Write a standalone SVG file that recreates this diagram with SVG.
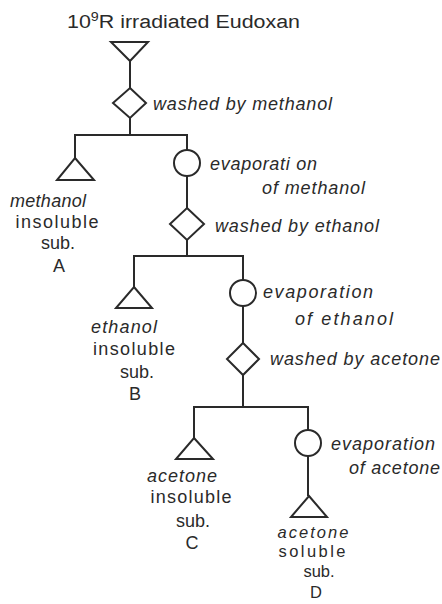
<svg xmlns="http://www.w3.org/2000/svg" width="442" height="604" viewBox="0 0 442 604">
<style>
  .s { fill: none; stroke: #2a2a2a; stroke-width: 2; stroke-linejoin: miter; }
  .c { stroke: #2a2a2a; stroke-width: 2; fill: none; }
  text { font-family: "Liberation Sans", Arial, sans-serif; font-size: 18px; fill: #2a2a2a; }
  .i { font-style: italic; }
  .d { font-size: 16.5px; }
</style>
<rect width="442" height="604" fill="#ffffff"/>

<g id="connectors">
  <path class="c" d="M130 61 V88 M130 118 V135 M74 135 H188 M75 135 V158 M187 135 V150 M187 176 V208 M187 240 V256 M133 256 H244 M134 256 V287 M243 256 V280 M243 306 V343 M243 375 V407 M193 407 H309 M194 407 V438 M308 407 V430 M308 456 V496"/>
</g>

<g id="start">
  <text x="67" y="28" textLength="233" lengthAdjust="spacingAndGlyphs">10<tspan font-size="12" dy="-7">9</tspan><tspan dy="7">R  irradiated Eudoxan</tspan></text>
  <path class="s" d="M111 42 H148 L130 61 Z"/>
</g>

<g id="wash-methanol">
  <path class="s" d="M130 88 L146 103 L130 118 L113 103 Z"/>
  <text class="i" x="153" y="110" textLength="179" lengthAdjust="spacing">washed by methanol</text>
</g>

<g id="sub-A">
  <path class="s" d="M75 158 L94 180 H57 Z"/>
  <text class="i" x="48" y="207" text-anchor="middle" textLength="76" lengthAdjust="spacing">methanol</text>
  <text x="57" y="228" text-anchor="middle" textLength="83" lengthAdjust="spacing">insoluble</text>
  <text x="58" y="249" text-anchor="middle">sub.</text>
  <text x="59" y="272" text-anchor="middle">A</text>
</g>

<g id="evap-methanol">
  <circle class="s" cx="187" cy="163" r="13"/>
  <text class="i" x="210" y="170" textLength="107" lengthAdjust="spacing">evaporati on</text>
  <text class="i" x="262" y="194" textLength="103" lengthAdjust="spacing">of methanol</text>
</g>

<g id="wash-ethanol">
  <path class="s" d="M187 208 L204 224 L187 240 L170 224 Z"/>
  <text class="i" x="215" y="232" textLength="164" lengthAdjust="spacing">washed by ethanol</text>
</g>

<g id="sub-B">
  <path class="s" d="M134 287 L152 308 H116 Z"/>
  <text class="i" x="124" y="333" text-anchor="middle" textLength="66" lengthAdjust="spacing">ethanol</text>
  <text x="134" y="355" text-anchor="middle" textLength="82" lengthAdjust="spacing">insoluble</text>
  <text x="137" y="378" text-anchor="middle">sub.</text>
  <text x="135" y="400" text-anchor="middle">B</text>
</g>

<g id="evap-ethanol">
  <circle class="s" cx="243" cy="293" r="13"/>
  <text class="i" x="263" y="298" textLength="110" lengthAdjust="spacing">evaporation</text>
  <text class="i" x="295" y="325" textLength="98" lengthAdjust="spacing">of ethanol</text>
</g>

<g id="wash-acetone">
  <path class="s" d="M243 343 L259 359 L243 375 L227 359 Z"/>
  <text class="i" x="270" y="365" textLength="170" lengthAdjust="spacing">washed by acetone</text>
</g>

<g id="sub-C">
  <path class="s" d="M194 438 L213 459 H176 Z"/>
  <text class="i" x="182" y="482" text-anchor="middle" textLength="70" lengthAdjust="spacing">acetone</text>
  <text x="191" y="503" text-anchor="middle" textLength="81" lengthAdjust="spacing">insoluble</text>
  <text x="193" y="527" text-anchor="middle">sub.</text>
  <text x="192" y="549" text-anchor="middle">C</text>
</g>

<g id="evap-acetone">
  <circle class="s" cx="308" cy="443" r="13"/>
  <text class="i" x="331" y="450" textLength="104" lengthAdjust="spacing">evaporation</text>
  <text class="i" x="349" y="474" textLength="91" lengthAdjust="spacing">of acetone</text>
</g>

<g id="sub-D">
  <path class="s" d="M309 496 L327 517 H291 Z"/>
  <text class="i d" x="313" y="538" text-anchor="middle" textLength="71" lengthAdjust="spacing">acetone</text>
  <text class="d" x="312" y="557" text-anchor="middle" textLength="67" lengthAdjust="spacing">soluble</text>
  <text class="d" x="319" y="577" text-anchor="middle">sub.</text>
  <text class="d" x="316" y="598" text-anchor="middle">D</text>
</g>
</svg>
